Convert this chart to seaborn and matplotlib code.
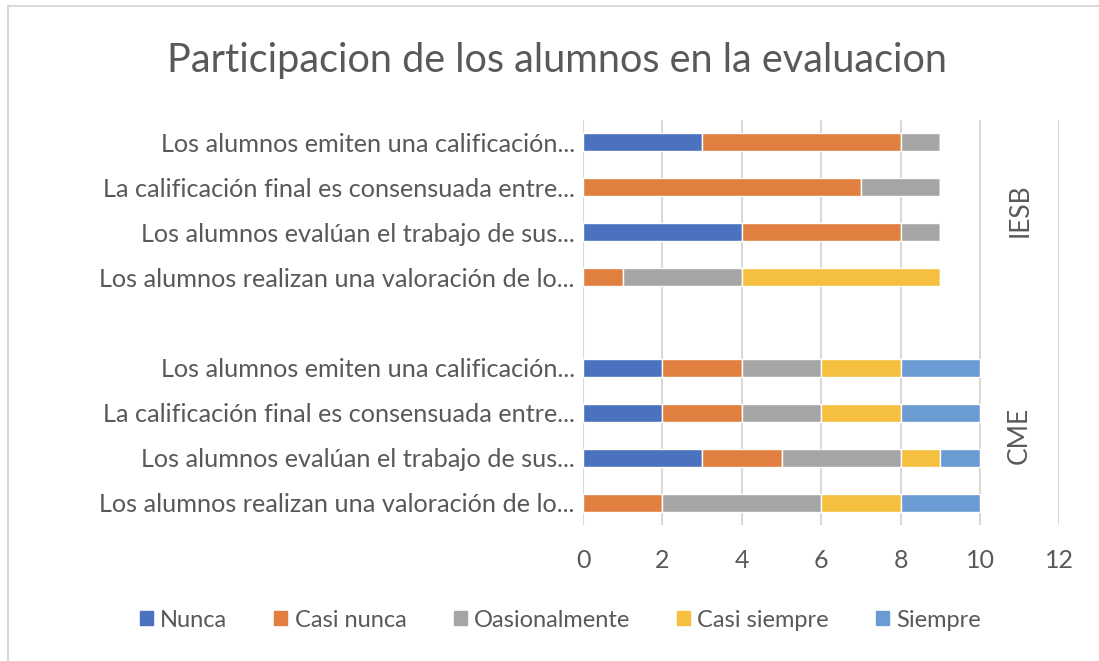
import matplotlib
matplotlib.use("Agg")
import matplotlib.pyplot as plt
import seaborn as sns
import numpy as np
from matplotlib.patches import Rectangle, Patch

# Category labels (top to bottom), group labels
questions = [
    "Los alumnos emiten una calificación...",
    "La calificación final es consensuada entre...",
    "Los alumnos evalúan el trabajo de sus...",
    "Los alumnos realizan una valoración de lo...",
]
groups = ["IESB", "CME"]
series = ["Nunca", "Casi nunca", "Oasionalmente", "Casi siempre", "Siempre"]

# values per series, order: IESB questions then CME questions
nunca         = [3, 0, 4, 0, 2, 2, 3, 0]
casi_nunca    = [5, 7, 4, 1, 2, 2, 2, 2]
ocasional     = [1, 2, 1, 3, 2, 2, 3, 4]
casi_siempre  = [0, 0, 0, 5, 2, 2, 1, 2]
siempre       = [0, 0, 0, 0, 2, 2, 1, 2]

colors = ["#4A72BE", "#E07F3F", "#A5A5A5", "#F5BF3F", "#6A9BD2"]
text_color = "#595959"

sns.set_theme(style="white")
plt.rcParams["font.family"] = ["Lato", "DejaVu Sans"]

fig = plt.figure(figsize=(10.99, 6.61), dpi=100)
ax = fig.add_axes([0.5305, 0.2057, 0.4335, 0.6128])

# positions with an empty slot between the two groups
positions = [0, 1, 2, 3, 5, 6, 7, 8]
labels = questions + questions

left = np.zeros(len(positions))
for name, vals, col in zip(series, [nunca, casi_nunca, ocasional, casi_siempre, siempre], colors):
    vals = np.array(vals, dtype=float)
    ax.barh(positions, vals, left=left, height=0.4, color=col, label=name, zorder=3)
    left += vals

ax.set_xlim(0, 12)
ax.set_ylim(8.5, -0.5)
ax.set_xticks(range(0, 13, 2))
ax.set_yticks(positions)
ax.set_yticklabels(labels)
ax.tick_params(axis="y", length=0, pad=6, labelsize=18.2, labelcolor=text_color)
ax.tick_params(axis="x", length=0, pad=17, labelsize=18, labelcolor=text_color)
for s in ax.spines.values():
    s.set_visible(False)
ax.grid(axis="x", color="#d9d9d9", linewidth=1.5, zorder=0)
ax.set_axisbelow(True)

# group labels
ax.text(11, 1.5, groups[0], rotation=90, ha="center", va="center",
        fontsize=19, color=text_color)
ax.text(11, 6.5, groups[1], rotation=90, ha="center", va="center",
        fontsize=19, color=text_color)

fig.text(0.507, 0.909, "Participacion de los alumnos en la evaluacion",
         ha="center", va="center", fontsize=28.5, color=text_color)

handles = [Patch(color=c, label=n) for n, c in zip(series, colors)]
fig.legend(handles=handles, loc="center", bbox_to_anchor=(0.51, 0.062), ncol=5,
           frameon=False, fontsize=17, handlelength=0.55, handleheight=0.55,
           handletextpad=0.3, columnspacing=2.0, labelcolor=text_color)

# outer chart frame
fig.patches.append(Rectangle((8 / 1099, -0.01), 1.0, 1 - 6 / 661 + 0.01,
                             transform=fig.transFigure, fill=False,
                             edgecolor="#d9d9d9", linewidth=1.5))

fig.savefig("out.png", dpi=100)
